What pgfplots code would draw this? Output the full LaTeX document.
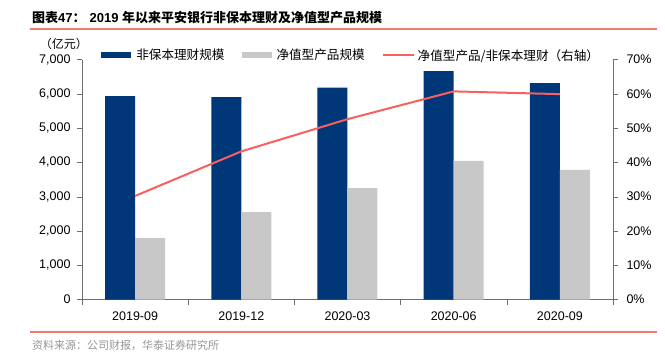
\documentclass[border=0pt]{standalone}
\usepackage{pgfplots}
\pgfplotsset{compat=1.18}
\usepackage{fontspec}
\setmainfont{Liberation Sans}
\newfontfamily\cjk{Noto Sans CJK SC}
\definecolor{nblue}{RGB}{0,55,120}
\definecolor{lgray}{RGB}{200,200,200}
\definecolor{lred}{RGB}{250,95,95}
\definecolor{rulered}{RGB}{238,125,112}
\definecolor{axgray}{RGB}{110,110,110}
\definecolor{srcgray}{RGB}{150,150,150}
\begin{document}
\begin{tikzpicture}
% origin = lower-left corner of the axis box (image x=82, y=299.5)
\path[use as bounding box] (-82pt,-54.5pt) rectangle (583pt,299.5pt);
\node[anchor=base west, inner sep=0pt] at (-50pt,276.5pt) {\fontsize{13}{15}\selectfont\bfseries {\cjk 图表}47{\cjk ：}\hspace{4pt}2019 {\cjk 年以来平安银行非保本理财及净值型产品规模}};
\draw[rulered, line width=1.5pt] (-52pt,270.5pt) -- (575pt,270.5pt);
\draw[rulered, line width=1.5pt] (-52pt,-32.5pt) -- (575pt,-32.5pt);
\node[anchor=west, inner sep=0pt, text=srcgray] at (-50pt,-45.5pt) {\cjk\fontsize{11}{13}\selectfont 资料来源：公司财报，华泰证券研究所};
\node[inner sep=0pt] at (-18pt,256pt) {\cjk\fontsize{12}{14}\selectfont （亿元）};
\begin{axis}[
  at={(0pt,0pt)}, anchor=south west,
  scale only axis, width=531pt, height=240pt,
  xmin=-0.5, xmax=4.5, ymin=0, ymax=7000,
  axis y line*=left, axis x line*=bottom,
  axis line style={axgray, -},
  ybar=0pt, bar width=30pt,
  xtick={0,...,4},
  xticklabels={2019-09,2019-12,2020-03,2020-06,2020-09},
  minor xtick={-0.5,0.5,...,4.5},
  major x tick style={draw=none},
  minor x tick style={axgray},
  ytick={0,1000,...,7000},
  y tick style={axgray},
  tick align=outside,
  major tick length=5pt, minor tick length=5pt,
  /pgf/number format/assume math mode=true,
  /pgf/number format/1000 sep={,},
  scaled y ticks=false,
  tick label style={font=\fontsize{12.5}{14}\selectfont, text=black},
  xticklabel style={yshift=-4pt},
  yticklabel style={xshift=-3pt},
  clip=false,
]
\addplot[fill=nblue, draw=none] coordinates {(0,5930) (1,5900) (2,6180) (3,6660) (4,6310)};
\addplot[fill=lgray, draw=none] coordinates {(0,1790) (1,2550) (2,3250) (3,4040) (4,3780)};
\end{axis}
\begin{axis}[
  at={(0pt,0pt)}, anchor=south west,
  scale only axis, width=531pt, height=240pt,
  xmin=-0.5, xmax=4.5, ymin=0, ymax=70,
  axis y line*=right, axis x line=none,
  axis line style={axgray, -},
  ytick={0,10,...,70},
  y tick style={axgray},
  tick align=outside,
  major tick length=5pt,
  /pgf/number format/assume math mode=true,
  yticklabel={\pgfmathprintnumber{\tick}\%},
  tick label style={font=\fontsize{12.5}{14}\selectfont, text=black},
  yticklabel style={xshift=5pt},
  legend style={at={(axis description cs:0.036,1.017)}, anchor=west, draw=none, fill=none, inner sep=0pt,
    font=\cjk\fontsize{12.6}{14}\selectfont, legend columns=3,
    /tikz/every even column/.append style={column sep=15pt}},
  clip=false,
]
\addlegendimage{legend image code/.code={\fill[nblue, draw=none] (0pt,-3pt) rectangle (30pt,3pt); \path[draw=none, fill=none] (0pt,0pt) -- (33pt,0pt);}}
\addlegendentry{非保本理财规模}
\addlegendimage{legend image code/.code={\fill[lgray, draw=none] (0pt,-3pt) rectangle (30pt,3pt); \path[draw=none, fill=none] (0pt,0pt) -- (33pt,0pt);}}
\addlegendentry{净值型产品规模}
\addplot[lred, line width=2pt, mark=none, legend image code/.code={\draw[lred, line width=2pt] (0pt,0pt) -- (31pt,0pt); \path[draw=none] (0pt,0pt) -- (33pt,0pt);}] coordinates {(0,30.2) (1,43.2) (2,52.6) (3,60.7) (4,59.9)};
\addlegendentry{净值型产品/非保本理财（右轴）}
\end{axis}
\end{tikzpicture}
\end{document}
